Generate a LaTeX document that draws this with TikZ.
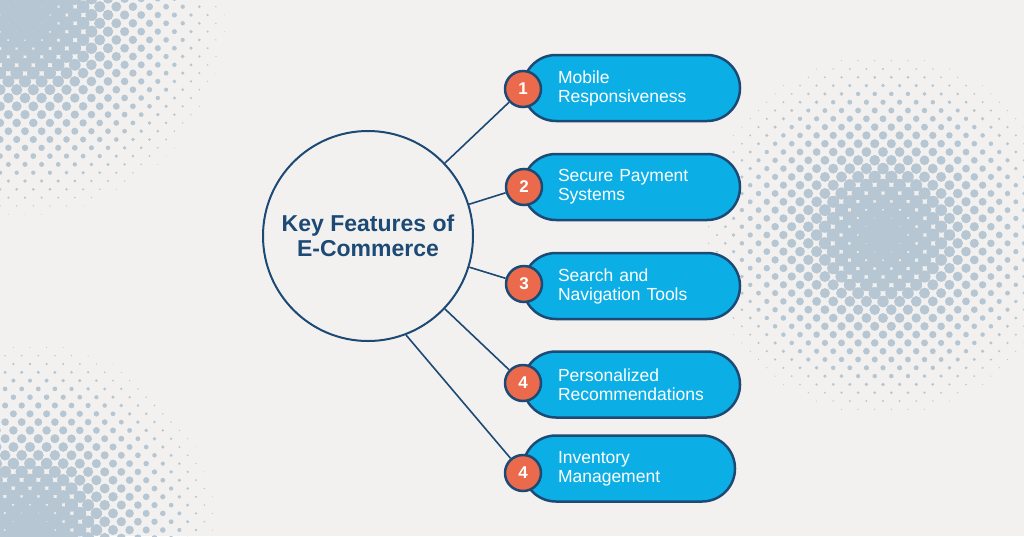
\documentclass[tikz,border=0pt]{standalone}
\usepackage{fontspec}
\setmainfont{Liberation Sans}
\usetikzlibrary{positioning,shapes.misc}
\definecolor{bgc}{HTML}{F2F1EF}
\definecolor{dotc}{HTML}{B6C6D2}
\definecolor{navy}{HTML}{1D4A75}
\definecolor{sky}{HTML}{0BAFE6}
\definecolor{coral}{HTML}{EB6A4B}
\tikzset{
  hub/.style={circle,draw=navy,line width=2pt,fill=bgc,minimum size=210pt,inner sep=0pt,
    align=center,text=navy,font=\fontsize{23}{25}\selectfont\bfseries},
  pill/.style={rectangle,rounded corners=32.9pt,draw=navy,line width=2.5pt,fill=sky,
    minimum height=66pt,inner xsep=35pt,inner ysep=0pt,text width=147pt,align=left,
    text=white,font=\fontsize{17.5}{19}\selectfont},
  badge/.style={circle,draw=navy,line width=2.5pt,fill=coral,minimum size=36pt,inner sep=0pt,
    text=white,font=\fontsize{17}{17}\selectfont\bfseries},
  link/.style={draw=navy,line width=1.6pt},
}
% halftone spot: centre x, centre y, radius
\newcommand\halftone[3]{%
  \foreach \u in {-17,...,17}{
    \foreach \v in {-17,...,17}{
      \pgfmathsetmacro\rr{8.8*(1-veclen(\u+\v,\u-\v)*8.3/#3)}
      \ifdim\rr pt>0.4pt
        \fill[dotc] (#1+\u*8.3+\v*8.3,#2+\u*8.3-\v*8.3) circle[radius=\rr];
      \fi
    }}}

\begin{document}
\begin{tikzpicture}[x=1pt,y=-1pt]
  \fill[bgc] (0,0) rectangle (1024,536);
  \useasboundingbox (0,0) rectangle (1024,536);
  \begin{scope}
    \clip (0,0) rectangle (1024,536);
    \halftone{25}{15}{210}
    \halftone{30}{530}{195}
    \halftone{883}{235}{190}
  \end{scope}

  \node[hub] (hub) at (368,236) {Key Features of\\E-Commerce};

  \node[pill] (p1) at (631.5,88) {Mobile\\Responsiveness};
  \node[pill] (p2) at (631.5,187) {Secure Payment\\Systems};
  \node[pill] (p3) at (631.5,286) {Search and\\Navigation Tools};
  \node[pill] (p4) at (631.5,384.5) {Personalized\\Recommendations};
  \node[pill,text width=142pt] (p5) at (629,468.5) {Inventory\\Management};

  \node[badge] (b1) at (523,89) {1};
  \node[badge] (b2) at (524,187) {2};
  \node[badge] (b3) at (524,284) {3};
  \node[badge] (b4) at (523,383) {4};
  \node[badge] (b5) at (523,473) {4};

  \draw[link] (hub) -- (b1);
  \draw[link] (hub) -- (b2);
  \draw[link] (hub) -- (b3);
  \draw[link] (hub) -- (b4);
  \draw[link] (hub.-69) -- (b5);
\end{tikzpicture}
\end{document}
